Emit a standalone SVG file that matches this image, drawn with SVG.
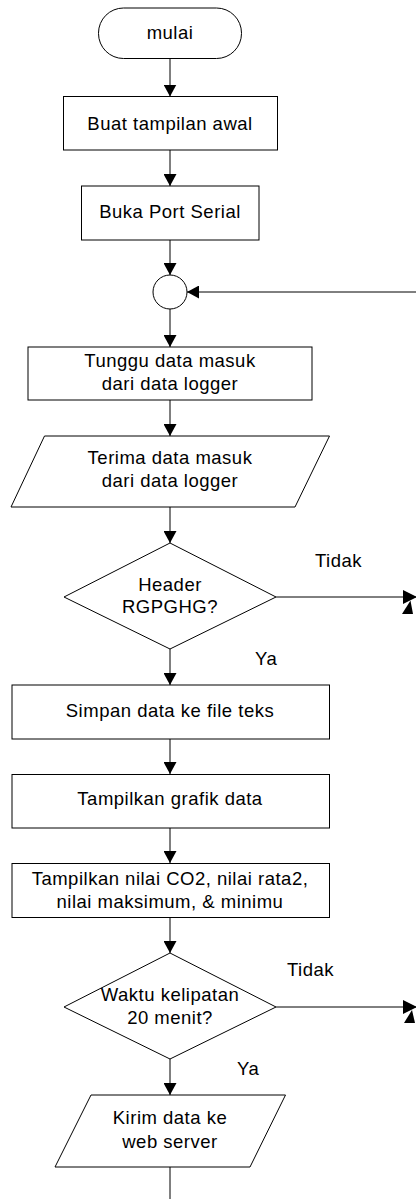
<svg xmlns="http://www.w3.org/2000/svg" width="416" height="1199" viewBox="0 0 416 1199">
<style>
.s{fill:#fff;stroke:#000;stroke-width:1}
.t{font-family:"Liberation Sans",Arial,sans-serif;font-size:18.5px;letter-spacing:0.5px;fill:#000;text-anchor:middle}
.l{font-family:"Liberation Sans",Arial,sans-serif;font-size:18.5px;letter-spacing:0.5px;fill:#000}
.c{fill:none;stroke:#000;stroke-width:1}
</style>
<defs>
<marker id="ah" markerWidth="13" markerHeight="13" refX="12" refY="6.5" orient="auto" markerUnits="userSpaceOnUse">
<path d="M0,0 L12,6.5 L0,13 z" fill="#000"/>
</marker>
<marker id="ahb" markerWidth="15" markerHeight="15" refX="14" refY="7" orient="auto" markerUnits="userSpaceOnUse">
<path d="M0,0 L14,7 L0,14 z" fill="#000"/>
</marker>
</defs>
<rect width="416" height="1199" fill="#fff"/>
<g id="connectors">
<line class="c" x1="170" y1="58" x2="170" y2="96.5" marker-end="url(#ah)"/>
<line class="c" x1="170" y1="150" x2="170" y2="186" marker-end="url(#ah)"/>
<line class="c" x1="170" y1="240" x2="170" y2="275" marker-end="url(#ah)"/>
<line class="c" x1="416" y1="292" x2="187" y2="292" marker-end="url(#ah)"/>
<line class="c" x1="170" y1="309" x2="170" y2="347" marker-end="url(#ah)"/>
<line class="c" x1="170" y1="400" x2="170" y2="436" marker-end="url(#ah)"/>
<line class="c" x1="170" y1="507" x2="170" y2="543" marker-end="url(#ah)"/>
<line class="c" x1="276" y1="597" x2="417" y2="597" stroke-width="1.5" marker-end="url(#ahb)"/>
<polygon points="402,614 410.5,600.5 413,614" fill="#000"/>
<line class="c" x1="276" y1="1007" x2="417" y2="1007" stroke-width="1.2" marker-end="url(#ahb)"/>
<polygon points="404,1023 412,1010 415,1023" fill="#000"/>
<line class="c" x1="170" y1="649" x2="170" y2="685" marker-end="url(#ah)"/>
<line class="c" x1="170" y1="739" x2="170" y2="774" marker-end="url(#ah)"/>
<line class="c" x1="170" y1="828" x2="170" y2="863" marker-end="url(#ah)"/>
<line class="c" x1="170" y1="918" x2="170" y2="953" marker-end="url(#ah)"/>
<line class="c" x1="170" y1="1059" x2="170" y2="1095" marker-end="url(#ah)"/>
<line class="c" x1="170" y1="1167" x2="170" y2="1199"/>
<text class="l" x="315" y="567">Tidak</text>
<text class="l" x="255" y="665">Ya</text>
<text class="l" x="287" y="976">Tidak</text>
<text class="l" x="237" y="1075">Ya</text>
</g>
<g id="mulai">
<rect class="s" x="98.5" y="8" width="143" height="50.5" rx="25" ry="25"/>
<text class="t" x="170" y="39">mulai</text>
</g>
<g id="buat">
<rect class="s" x="63.5" y="96.5" width="214" height="53.5"/>
<text class="t" x="170" y="129.5">Buat tampilan awal</text>
</g>
<g id="buka">
<rect class="s" x="81.5" y="186" width="177.5" height="54"/>
<text class="t" x="170" y="218">Buka Port Serial</text>
</g>
<g id="konektor">
<circle class="s" cx="170" cy="292" r="17"/>
</g>
<g id="tunggu">
<rect class="s" x="28" y="347" width="284" height="53"/>
<text class="t" x="170" y="367">Tunggu data masuk</text>
<text class="t" x="170" y="390">dari data logger</text>
</g>
<g id="terima">
<polygon class="s" points="44.5,436 329.5,436 295,507 11,507"/>
<text class="t" x="170" y="464">Terima data masuk</text>
<text class="t" x="170" y="487">dari data logger</text>
</g>
<g id="header">
<polygon class="s" points="170,543 276,597 170,649 64,597"/>
<text class="t" x="170" y="591">Header</text>
<text class="t" x="170" y="613">RGPGHG?</text>
</g>
<g id="simpan">
<rect class="s" x="12" y="685" width="317.5" height="54"/>
<text class="t" x="170" y="717">Simpan data ke file teks</text>
</g>
<g id="grafik">
<rect class="s" x="12" y="774.5" width="317.5" height="53.5"/>
<text class="t" x="170" y="805">Tampilkan grafik data</text>
</g>
<g id="nilai">
<rect class="s" x="12" y="863.5" width="317.5" height="54"/>
<text class="t" x="170" y="885">Tampilkan nilai CO2, nilai rata2,</text>
<text class="t" x="170" y="908">nilai maksimum, &amp; minimu</text>
</g>
<g id="waktu">
<polygon class="s" points="170,953 276,1007 170,1059 64,1007"/>
<text class="t" x="170" y="1001">Waktu kelipatan</text>
<text class="t" x="170" y="1024">20 menit?</text>
</g>
<g id="kirim">
<polygon class="s" points="91,1095 285.5,1095 250,1167 55,1167"/>
<text class="t" x="170" y="1124">Kirim data ke</text>
<text class="t" x="170" y="1148">web server</text>
</g>
</svg>
